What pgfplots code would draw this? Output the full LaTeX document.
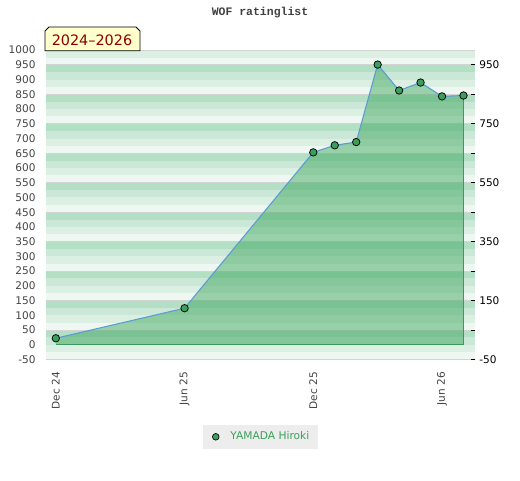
\documentclass[border=0pt]{standalone}
\usepackage{fontspec}
\setmainfont{DejaVu Sans}
\newfontfamily\monob{Liberation Mono}
\usepackage{pgfplots}
\pgfplotsset{compat=1.18}
\definecolor{bandA}{HTML}{B3DFC5}
\definecolor{bandB}{HTML}{CBE7D7}
\definecolor{bandC}{HTML}{DCEFE3}
\definecolor{bandD}{HTML}{EEF7F1}
\definecolor{gridc}{HTML}{D4D4D4}
\definecolor{areac}{RGB}{51,162,85}
\definecolor{edgec}{HTML}{3C9A5A}
\definecolor{linec}{HTML}{5B9BD5}
\definecolor{markc}{HTML}{3A9E5C}
\definecolor{tickc}{HTML}{444444}
\definecolor{legtext}{HTML}{3AA05A}
\definecolor{yearred}{HTML}{8B0000}
\definecolor{yearbox}{HTML}{FFFFCC}

\pgfplotstableread{
x y
0 22
6 124
12 653
13 677
14 688
15 951
16 863
17 890
18 843
19 846
}\ratings

\begin{document}
\begin{tikzpicture}
\path[use as bounding box] (0,0) rectangle (390pt,360pt);
\begin{axis}[
  at={(34.3pt,90.4pt)}, anchor=south west,
  scale only axis, width=322pt, height=232pt,
  xmin=-0.47, xmax=19.54, ymin=-50, ymax=1000,
  axis line style={draw=none},
  ytick={-50,0,...,1000},
  yticklabels={-50,0,50,100,150,200,250,300,350,400,450,500,550,600,650,700,750,800,850,900,950,1000},
  xtick={0,6,12,18},
  xticklabels={Dec 24,Jun 25,Dec 25,Jun 26},
  major tick length=0pt,
  tick style={draw=none},
  ticklabel style={font=\fontsize{7.9pt}{9pt}\selectfont, text=tickc},
  yticklabel style={anchor=east, inner sep=0pt},
  yticklabel shift=7.5pt,
  xticklabel style={rotate=90, anchor=east, inner sep=0pt},
  xticklabel shift=9.4pt,
  ytick pos=left, xtick pos=bottom,
  clip=true,
  legend style={at={(0.5,-0.25)}, anchor=center, fill=black!7, draw=none,
    font=\fontsize{8pt}{9.5pt}\selectfont, text=legtext, inner xsep=4.5pt, inner ysep=3pt},
  legend image code/.code={\path (-0.05cm,0) (0.42cm,0); \draw[mark=*, mark size=2.5pt, mark options={fill=markc, draw=black, line width=0.5pt}] plot coordinates {(0.12cm,0cm)};},
]
% background stripes
\fill[bandC] (axis cs:-0.47,1000) rectangle (axis cs:19.54,975);
\fill[bandD] (axis cs:-0.47,975) rectangle (axis cs:19.54,950);
\pgfplotsinvokeforeach{950,850,750,650,550,450,350,250,150,50}{
  \fill[bandA] (axis cs:-0.47,#1) rectangle (axis cs:19.54,#1-25);
  \fill[bandB] (axis cs:-0.47,#1-25) rectangle (axis cs:19.54,#1-50);
  \fill[bandC] (axis cs:-0.47,#1-50) rectangle (axis cs:19.54,#1-75);
  \fill[bandD] (axis cs:-0.47,#1-75) rectangle (axis cs:19.54,#1-100);
  \draw[gridc, line width=0.6pt] (axis cs:-0.47,#1) -- (axis cs:19.54,#1);
}
\draw[gridc, line width=1pt] (axis cs:-0.47,1000) -- (axis cs:19.54,1000);
\draw[gridc, line width=1pt] (axis cs:-0.47,-50) -- (axis cs:19.54,-50);
% area
\addplot[fill=areac, fill opacity=0.46, draw=none, forget plot] coordinates {
  (0,0) (0,22) (6,124) (12,653) (13,677) (14,688) (15,951) (16,863) (17,890) (18,843) (19,846) (19,0)} -- cycle;
\addplot[draw=edgec, line width=0.75pt, forget plot] coordinates {(19,846) (19,0) (0,0)};
\addplot[draw=linec, line width=0.8pt, mark=*, mark size=2.8pt,
  mark options={fill=markc, draw=black, line width=0.55pt}] table[x=x, y=y] {\ratings};
\addlegendentry{YAMADA Hiroki}
\end{axis}
\begin{axis}[
  at={(34.3pt,90.4pt)}, anchor=south west,
  scale only axis, width=322pt, height=232pt,
  xmin=-0.47, xmax=19.54, ymin=-50, ymax=1000,
  axis y line*=right, axis x line=none,
  axis line style={draw=none},
  ytick={-50,50,...,950},
  yticklabels={-50,,150,,350,,550,,750,,950},
  major tick length=3pt, tick align=inside,
  tick style={draw=black, line width=0.6pt},
  yticklabel style={anchor=west, inner sep=0pt, font=\fontsize{7.9pt}{9pt}\selectfont, text=black},
  yticklabel shift=3pt,
]
\addplot[draw=none] coordinates {(0,0)};
\end{axis}
% title
\node[font=\monob\bfseries\fontsize{8.6pt}{10pt}\selectfont, text=black!75] at (195pt,350.3pt) {WOF ratinglist};
% year box
\draw[fill=yearbox, line width=0.6pt] (33.75pt,321.9pt) -- (33.75pt,336.75pt) -- (36.75pt,339.75pt) -- (102pt,339.75pt) -- (105pt,336.75pt) -- (105pt,321.9pt) -- cycle;
\node[text=yearred, font=\fontsize{10.8pt}{12pt}\selectfont] at (69pt,330pt) {2024–2026};
\end{tikzpicture}
\end{document}
